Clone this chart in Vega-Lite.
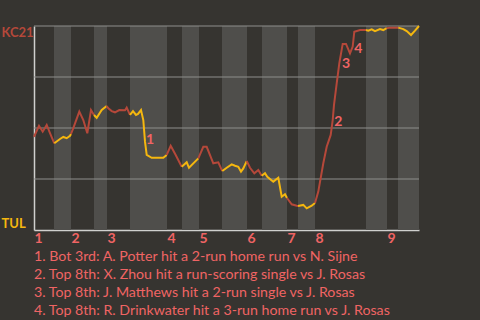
{
  "$schema": "https://vega.github.io/schema/vega-lite/v6.json",
  "width": 385,
  "height": 204,
  "autosize": {"type": "none"},
  "padding": {"left": 34, "top": 26, "right": 61, "bottom": 90},
  "background": "#363430",
  "config": {
    "view": {"stroke": null},
    "font": "Lato",
    "axisX": {
      "title": null, "grid": false, "ticks": false,
      "domainColor": "#d0d0ce", "domainWidth": 1.5,
      "labelAlign": "left", "labelBaseline": "top", "labelPadding": 1,
      "labelFont": "Lato", "labelFontSize": 14, "labelFontWeight": "bold",
      "labelColor": "#f06464", "labelFlush": false, "labelOverlap": false
    },
    "axisY": {
      "title": null, "grid": false, "ticks": false,
      "domainColor": "#d0d0ce", "domainWidth": 1.5,
      "labelAlign": "left", "labelPadding": 33, "labelFlush": true,
      "labelFont": "Lato", "labelFontSize": 13, "labelFontWeight": "bold"
    }
  },
  "title": {
    "text": [
      "1. Bot 3rd: A. Potter hit a 2-run home run vs N. Sijne",
      "2. Top 8th: X. Zhou hit a run-scoring single vs J. Rosas",
      "3. Top 8th: J. Matthews hit a 2-run single vs J. Rosas",
      "4. Top 8th: R. Drinkwater hit a 3-run home run vs J. Rosas"
    ],
    "orient": "bottom",
    "anchor": "start",
    "frame": "group",
    "font": "Lato",
    "fontSize": 14.2,
    "fontWeight": "normal",
    "color": "#f06464",
    "lineHeight": 18,
    "offset": 5
  },
  "datasets": {
    "bands": [
      {"x": 20, "x2": 37}, {"x": 60, "x2": 73}, {"x": 96, "x2": 133},
      {"x": 148, "x2": 165}, {"x": 188, "x2": 213}, {"x": 228, "x2": 253},
      {"x": 264, "x2": 281}, {"x": 332, "x2": 353}, {"x": 364, "x2": 385}
    ],
    "grid": [{"p": 25}, {"p": 50}, {"p": 75}, {"p": 100}],
    "notes": [
      {"x": 116, "p": 44.1, "n": "1"},
      {"x": 304.3, "p": 53.1, "n": "2"},
      {"x": 312, "p": 81.4, "n": "3"},
      {"x": 324.3, "p": 88.6, "n": "4"}
    ],
    "wp": [
      {"x": 0, "p": 45.7, "h": 1, "t": "KC"},
      {"x": 5, "p": 51.1, "h": 1, "t": "KC"},
      {"x": 8.7, "p": 48.2, "h": 1, "t": "KC"},
      {"x": 12.7, "p": 51.5, "h": 1, "t": "KC"},
      {"x": 16, "p": 47.5, "h": 1, "t": "KC"},
      {"x": 20.3, "p": 42.5, "h": 1, "t": "KC"},
      {"x": 20.3, "p": 42.5, "h": 2, "t": "TUL"},
      {"x": 26, "p": 44.6, "h": 2, "t": "TUL"},
      {"x": 29.3, "p": 45.6, "h": 2, "t": "TUL"},
      {"x": 32.7, "p": 45.0, "h": 2, "t": "TUL"},
      {"x": 36, "p": 46.2, "h": 2, "t": "TUL"},
      {"x": 37, "p": 47.1, "h": 2, "t": "TUL"},
      {"x": 37, "p": 47.1, "h": 3, "t": "KC"},
      {"x": 39.3, "p": 49.9, "h": 3, "t": "KC"},
      {"x": 45.3, "p": 58.0, "h": 3, "t": "KC"},
      {"x": 49.3, "p": 53.9, "h": 3, "t": "KC"},
      {"x": 53.3, "p": 47.4, "h": 3, "t": "KC"},
      {"x": 57, "p": 58.8, "h": 3, "t": "KC"},
      {"x": 60, "p": 56.4, "h": 3, "t": "KC"},
      {"x": 60, "p": 56.4, "h": 4, "t": "TUL"},
      {"x": 62.7, "p": 55.0, "h": 4, "t": "TUL"},
      {"x": 67.7, "p": 58.8, "h": 4, "t": "TUL"},
      {"x": 72.7, "p": 60.8, "h": 4, "t": "TUL"},
      {"x": 72.7, "p": 60.8, "h": 5, "t": "KC"},
      {"x": 74.3, "p": 59.7, "h": 5, "t": "KC"},
      {"x": 77.7, "p": 58.3, "h": 5, "t": "KC"},
      {"x": 81, "p": 57.7, "h": 5, "t": "KC"},
      {"x": 85.3, "p": 58.8, "h": 5, "t": "KC"},
      {"x": 91, "p": 58.7, "h": 5, "t": "KC"},
      {"x": 92.7, "p": 60.0, "h": 5, "t": "KC"},
      {"x": 96, "p": 56.4, "h": 5, "t": "KC"},
      {"x": 96, "p": 56.4, "h": 6, "t": "TUL"},
      {"x": 99, "p": 58.3, "h": 6, "t": "TUL"},
      {"x": 102, "p": 56.4, "h": 6, "t": "TUL"},
      {"x": 104, "p": 56.9, "h": 6, "t": "TUL"},
      {"x": 107, "p": 58.8, "h": 6, "t": "TUL"},
      {"x": 109.3, "p": 53.9, "h": 6, "t": "TUL"},
      {"x": 111, "p": 43.3, "h": 6, "t": "TUL"},
      {"x": 112.7, "p": 36.8, "h": 6, "t": "TUL"},
      {"x": 117.7, "p": 35.4, "h": 6, "t": "TUL"},
      {"x": 129.3, "p": 35.4, "h": 6, "t": "TUL"},
      {"x": 132.7, "p": 36.8, "h": 6, "t": "TUL"},
      {"x": 132.7, "p": 36.8, "h": 7, "t": "KC"},
      {"x": 136.7, "p": 41.3, "h": 7, "t": "KC"},
      {"x": 141.7, "p": 36.8, "h": 7, "t": "KC"},
      {"x": 147.7, "p": 31.0, "h": 7, "t": "KC"},
      {"x": 147.7, "p": 31.0, "h": 8, "t": "TUL"},
      {"x": 152.7, "p": 33.2, "h": 8, "t": "TUL"},
      {"x": 155, "p": 30.5, "h": 8, "t": "TUL"},
      {"x": 164.3, "p": 35.1, "h": 8, "t": "TUL"},
      {"x": 164.3, "p": 35.1, "h": 9, "t": "KC"},
      {"x": 169.3, "p": 40.8, "h": 9, "t": "KC"},
      {"x": 172.7, "p": 40.8, "h": 9, "t": "KC"},
      {"x": 179.3, "p": 32.7, "h": 9, "t": "KC"},
      {"x": 184.3, "p": 33.2, "h": 9, "t": "KC"},
      {"x": 188.3, "p": 28.9, "h": 9, "t": "KC"},
      {"x": 188.3, "p": 28.9, "h": 10, "t": "TUL"},
      {"x": 192.7, "p": 30.5, "h": 10, "t": "TUL"},
      {"x": 197.7, "p": 32.2, "h": 10, "t": "TUL"},
      {"x": 201, "p": 31.5, "h": 10, "t": "TUL"},
      {"x": 204.3, "p": 31.0, "h": 10, "t": "TUL"},
      {"x": 207, "p": 28.6, "h": 10, "t": "TUL"},
      {"x": 209.3, "p": 30.2, "h": 10, "t": "TUL"},
      {"x": 212.7, "p": 33.8, "h": 10, "t": "TUL"},
      {"x": 212.7, "p": 33.8, "h": 11, "t": "KC"},
      {"x": 216, "p": 30.5, "h": 11, "t": "KC"},
      {"x": 220.3, "p": 27.8, "h": 11, "t": "KC"},
      {"x": 224.3, "p": 29.4, "h": 11, "t": "KC"},
      {"x": 227.7, "p": 26.6, "h": 11, "t": "KC"},
      {"x": 227.7, "p": 26.6, "h": 12, "t": "TUL"},
      {"x": 231, "p": 27.8, "h": 12, "t": "TUL"},
      {"x": 233.3, "p": 26.1, "h": 12, "t": "TUL"},
      {"x": 239.3, "p": 23.7, "h": 12, "t": "TUL"},
      {"x": 244.3, "p": 25.6, "h": 12, "t": "TUL"},
      {"x": 247.7, "p": 16.3, "h": 12, "t": "TUL"},
      {"x": 251, "p": 17.5, "h": 12, "t": "TUL"},
      {"x": 253, "p": 15.7, "h": 12, "t": "TUL"},
      {"x": 253, "p": 15.7, "h": 13, "t": "KC"},
      {"x": 257.7, "p": 12.6, "h": 13, "t": "KC"},
      {"x": 262.7, "p": 11.9, "h": 13, "t": "KC"},
      {"x": 264, "p": 11.8, "h": 13, "t": "KC"},
      {"x": 264, "p": 11.8, "h": 14, "t": "TUL"},
      {"x": 269.3, "p": 12.3, "h": 14, "t": "TUL"},
      {"x": 272.7, "p": 10.6, "h": 14, "t": "TUL"},
      {"x": 277.7, "p": 11.9, "h": 14, "t": "TUL"},
      {"x": 281, "p": 13.2, "h": 14, "t": "TUL"},
      {"x": 281, "p": 13.2, "h": 15, "t": "KC"},
      {"x": 284.3, "p": 18.8, "h": 15, "t": "KC"},
      {"x": 289.3, "p": 32.7, "h": 15, "t": "KC"},
      {"x": 292.7, "p": 40.8, "h": 15, "t": "KC"},
      {"x": 296.7, "p": 46.6, "h": 15, "t": "KC"},
      {"x": 298.7, "p": 53.9, "h": 15, "t": "KC"},
      {"x": 300, "p": 61.3, "h": 15, "t": "KC"},
      {"x": 302.7, "p": 71.9, "h": 15, "t": "KC"},
      {"x": 305.3, "p": 81.7, "h": 15, "t": "KC"},
      {"x": 308.7, "p": 91.2, "h": 15, "t": "KC"},
      {"x": 312, "p": 91.2, "h": 15, "t": "KC"},
      {"x": 316, "p": 86.6, "h": 15, "t": "KC"},
      {"x": 318.7, "p": 89.9, "h": 15, "t": "KC"},
      {"x": 320.3, "p": 97.2, "h": 15, "t": "KC"},
      {"x": 326, "p": 98.0, "h": 15, "t": "KC"},
      {"x": 332, "p": 98.0, "h": 15, "t": "KC"},
      {"x": 332, "p": 98.0, "h": 16, "t": "TUL"},
      {"x": 334.3, "p": 97.7, "h": 16, "t": "TUL"},
      {"x": 337.7, "p": 98.4, "h": 16, "t": "TUL"},
      {"x": 341, "p": 97.5, "h": 16, "t": "TUL"},
      {"x": 346, "p": 98.5, "h": 16, "t": "TUL"},
      {"x": 349.3, "p": 98.0, "h": 16, "t": "TUL"},
      {"x": 352.7, "p": 98.9, "h": 16, "t": "TUL"},
      {"x": 352.7, "p": 98.9, "h": 17, "t": "KC"},
      {"x": 356, "p": 99.2, "h": 17, "t": "KC"},
      {"x": 364.3, "p": 99.2, "h": 17, "t": "KC"},
      {"x": 364.3, "p": 99.2, "h": 18, "t": "TUL"},
      {"x": 369.3, "p": 98.5, "h": 18, "t": "TUL"},
      {"x": 372.7, "p": 97.5, "h": 18, "t": "TUL"},
      {"x": 377, "p": 95.6, "h": 18, "t": "TUL"},
      {"x": 381, "p": 97.7, "h": 18, "t": "TUL"},
      {"x": 385, "p": 100, "h": 18, "t": "TUL"}
    ]
  },
  "layer": [
    {
      "data": {"name": "bands"},
      "mark": {"type": "rect", "color": "#4f4e4b"},
      "encoding": {
        "x": {"field": "x", "type": "quantitative",
              "scale": {"domain": [0, 385], "nice": false, "zero": false},
              "axis": {
                "values": [0, 37, 73, 133, 165, 213, 253, 281, 353],
                "labelExpr": "indexof([0, 37, 73, 133, 165, 213, 253, 281, 353], datum.value) + 1"
              }},
        "x2": {"field": "x2"}
      }
    },
    {
      "data": {"name": "grid"},
      "mark": {"type": "rule", "color": "#8e8e8c", "strokeWidth": 1},
      "encoding": {
        "y": {"field": "p", "type": "quantitative",
              "scale": {"domain": [0, 100], "nice": false},
              "axis": {
                "values": [0, 100],
                "labelExpr": "datum.value == 100 ? 'KC21' : 'TUL'",
                "labelColor": {"condition": {"test": "datum.value == 100", "value": "#b5483a"}, "value": "#f5b70f"}
              }}
      }
    },
    {
      "data": {"name": "wp"},
      "mark": {"type": "line", "strokeWidth": 2},
      "encoding": {
        "x": {"field": "x", "type": "quantitative",
              "scale": {"domain": [0, 385], "nice": false, "zero": false},
              "axis": {
                "values": [0, 37, 73, 133, 165, 213, 253, 281, 353],
                "labelExpr": "indexof([0, 37, 73, 133, 165, 213, 253, 281, 353], datum.value) + 1"
              }},
        "y": {"field": "p", "type": "quantitative",
              "scale": {"domain": [0, 100], "nice": false},
              "axis": {
                "values": [0, 100],
                "labelExpr": "datum.value == 100 ? 'KC21' : 'TUL'",
                "labelColor": {"condition": {"test": "datum.value == 100", "value": "#b5483a"}, "value": "#f5b70f"}
              }},
        "color": {"field": "t", "type": "nominal", "legend": null,
                  "scale": {"domain": ["KC", "TUL"], "range": ["#b5483a", "#f5b70f"]}},
        "detail": {"field": "h", "type": "nominal"}
      }
    },
    {
      "data": {"name": "notes"},
      "mark": {"type": "text", "font": "Lato", "fontSize": 14, "fontWeight": "bold", "color": "#f06464", "align": "center", "baseline": "middle"},
      "encoding": {
        "x": {"field": "x", "type": "quantitative",
              "axis": {
                "values": [0, 37, 73, 133, 165, 213, 253, 281, 353],
                "labelExpr": "indexof([0, 37, 73, 133, 165, 213, 253, 281, 353], datum.value) + 1"
              }},
        "y": {"field": "p", "type": "quantitative",
              "axis": {
                "values": [0, 100],
                "labelExpr": "datum.value == 100 ? 'KC21' : 'TUL'",
                "labelColor": {"condition": {"test": "datum.value == 100", "value": "#b5483a"}, "value": "#f5b70f"}
              }},
        "text": {"field": "n", "type": "nominal"}
      }
    }
  ]
}
